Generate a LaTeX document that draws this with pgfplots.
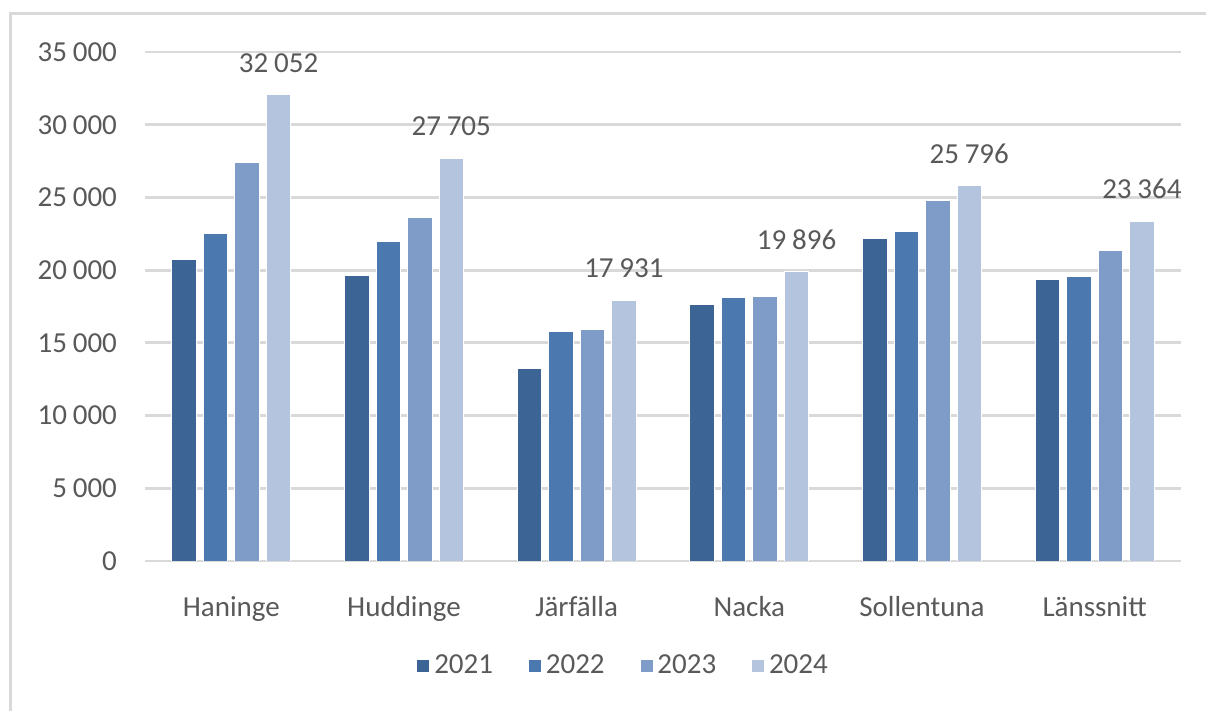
\documentclass[border=0pt]{standalone}
\usepackage{pgfplots}
\pgfplotsset{compat=1.18}
\usepackage{fontspec}
\setmainfont{Carlito}
\definecolor{c21}{HTML}{3C6595}
\definecolor{c22}{HTML}{4A78AF}
\definecolor{c23}{HTML}{7F9BC7}
\definecolor{c24}{HTML}{B4C3DE}
\definecolor{txt}{HTML}{595959}
\definecolor{gridc}{HTML}{D9D9D9}
\newcommand{\lblfont}{\fontsize{14.5}{17}\selectfont}
\begin{document}
\lblfont
\begin{tikzpicture}
\path[use as bounding box] (0pt,0pt) rectangle (603pt,355.5pt);
\draw[gridc, line width=1.5pt] (5pt,0pt) -- (5pt,348.5pt) -- (603pt,348.5pt);
\begin{axis}[
  at={(72.5pt,75pt)}, anchor=south west, scale only axis,
  width=518pt, height=254.5pt,
  ybar=3.5pt, bar width=12.25pt,
  xmin=-0.5, xmax=5.5, ymin=0, ymax=35000,
  ytick={0,5000,...,35000},
  xtick={0,...,5},
  xticklabels={Haninge,Huddinge,Järfälla,Nacka,Sollentuna,Länssnitt},
  axis line style={draw=none},
  major tick length=0pt,
  ymajorgrids, grid style={gridc, line width=1.4pt},
  tick label style={text=txt, font=\lblfont},
  yticklabel style={xshift=-9pt},
  xticklabel style={yshift=-12.7pt},
  scaled y ticks=false,
  /pgf/number format/.cd, 1000 sep={\hspace{0.2em}}, assume math mode=true, /pgfplots/.cd,
  legend style={at={(0.4625,-0.206)}, anchor=center, draw=none, fill=none,
    font=\lblfont, text=txt,
    /tikz/every even column/.append style={column sep=15.5pt}},
  legend columns=4,
  legend image code/.code={\fill[#1] (0pt,-3.25pt) rectangle (6.5pt,3.25pt);},
  every axis plot/.append style={draw=white, line width=0.4pt},
]
\addplot[fill=c21] coordinates {(0,20760) (1,19650) (2,13250) (3,17670) (4,22200) (5,19330)};
\addlegendentry{2021}
\addplot[fill=c22] coordinates {(0,22530) (1,21970) (2,15800) (3,18100) (4,22660) (5,19560)};
\addlegendentry{2022}
\addplot[fill=c23] coordinates {(0,27430) (1,23620) (2,15950) (3,18220) (4,24770) (5,21330)};
\addlegendentry{2023}
\addplot[fill=c24, nodes near coords,
  every node near coord/.append style={text=txt, font=\lblfont, yshift=6pt}]
  coordinates {(0,32052) (1,27705) (2,17931) (3,19896) (4,25796) (5,23364)};
\addlegendentry{2024}
\end{axis}
\end{tikzpicture}
\end{document}
